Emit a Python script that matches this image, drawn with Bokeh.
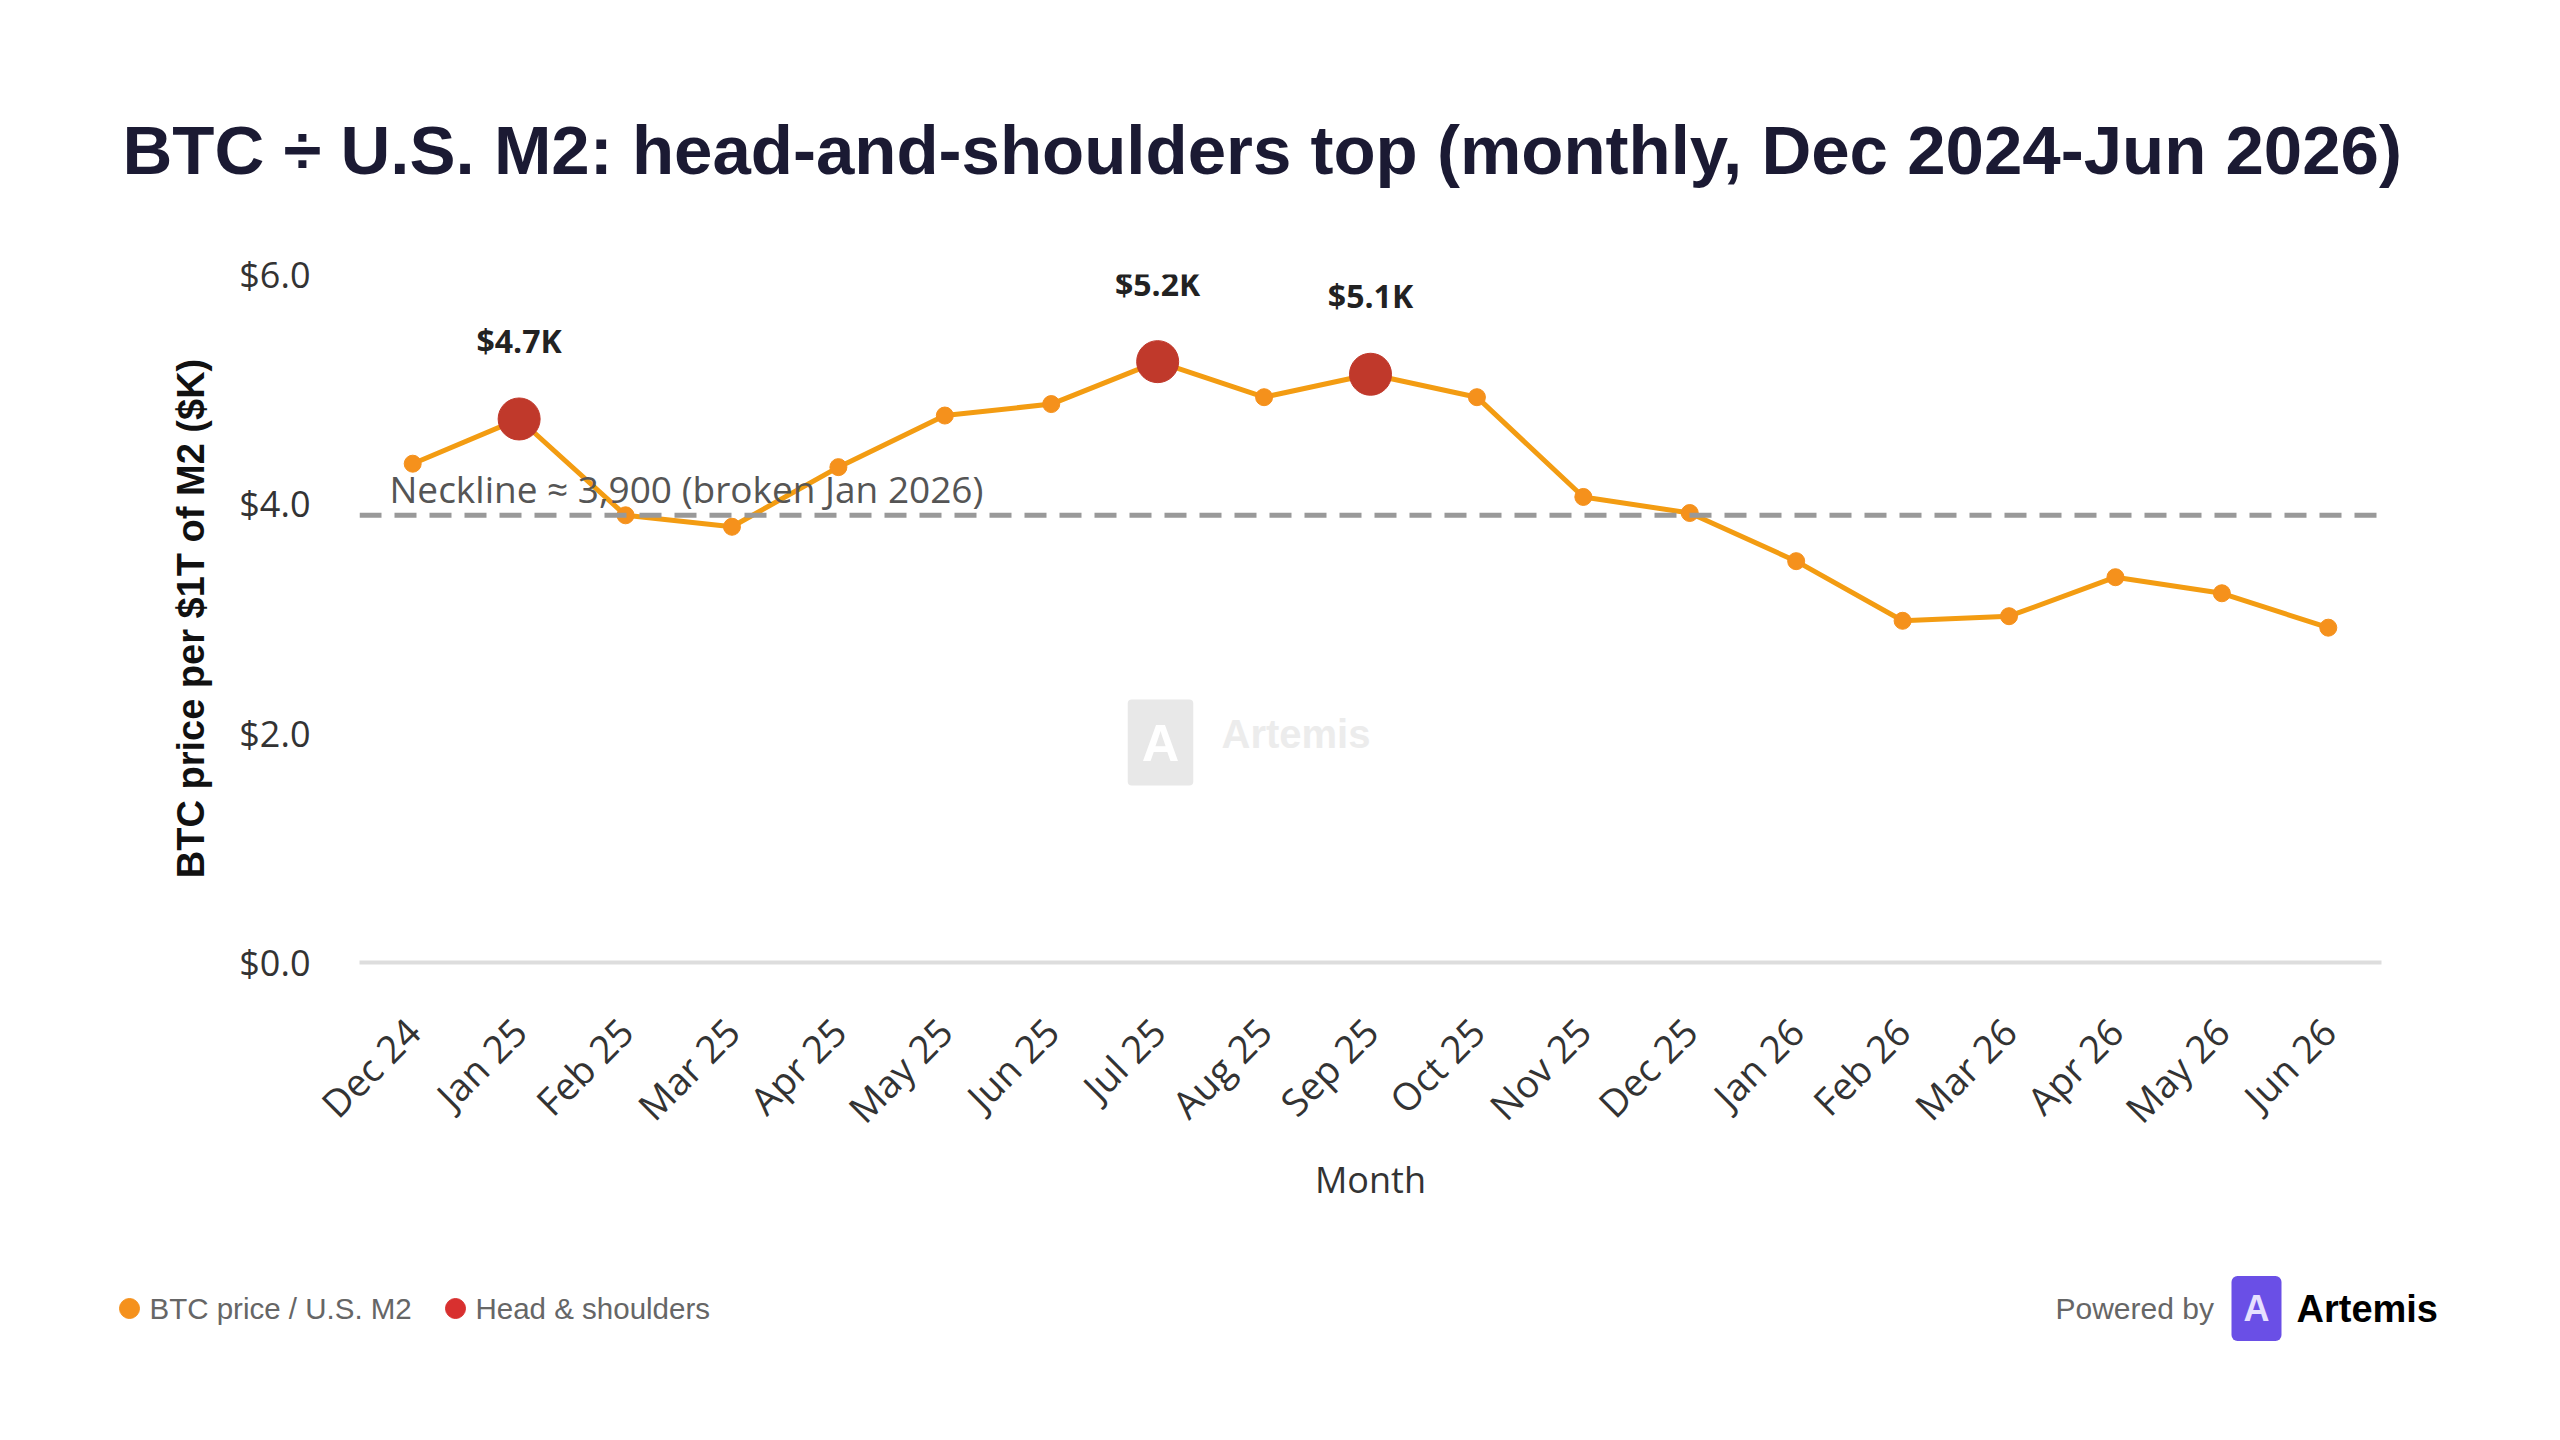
from math import pi

from bokeh.plotting import figure
from bokeh.layouts import column
from bokeh.core.properties import value
from bokeh.models import (ColumnDataSource, FactorRange, Range1d, Span, Label, LabelSet,
                          FixedTicker, PrintfTickFormatter)
from bokeh.embed import file_html
from bokeh.resources import INLINE

# monthly BTC price per $1T of US M2, in $K
months = ["Dec 24", "Jan 25", "Feb 25", "Mar 25", "Apr 25", "May 25", "Jun 25", "Jul 25",
          "Aug 25", "Sep 25", "Oct 25", "Nov 25", "Dec 25", "Jan 26", "Feb 26", "Mar 26",
          "Apr 26", "May 26", "Jun 26"]
ratio = [4.35, 4.74, 3.90, 3.80, 4.32, 4.77, 4.87, 5.24, 4.93, 5.13, 4.93, 4.06, 3.92,
         3.50, 2.98, 3.02, 3.36, 3.22, 2.92]

# left shoulder, head, right shoulder
peak_months = ["Jan 25", "Jul 25", "Sep 25"]
peak_labels = ["$4.7K", "$5.2K", "$5.1K"]
neckline = 3.9
y_ticks = [0, 2, 4, 6]

legend_labels = ["BTC price / U.S. M2", "Head & shoulders"]

ORANGE = "#f39c12"
DOT = "#f5911c"
RED = "#c0392b"
W = 2544

src = ColumnDataSource(data=dict(month=months, ratio=ratio))
peaks = ColumnDataSource(data=dict(
    month=peak_months,
    value=[ratio[months.index(m)] for m in peak_months],
    label=peak_labels,
))


def blank(height, top):
    # plain strip without axes; its data units are page pixels, y growing down
    f = figure(width=W, height=height, x_range=Range1d(0, W),
               y_range=Range1d(top + height, top), x_axis_type=None, y_axis_type=None,
               min_border=0, outline_line_color=None, toolbar_location=None,
               output_backend="svg", frame_align=False)
    f.xgrid.visible = False
    f.ygrid.visible = False
    return f


# ---- title strip
head = blank(220, 0)
head.add_layout(Label(x=122, y=150, text_baseline="alphabetic",
                      text="BTC \u00f7 U.S. M2: head-and-shoulders top (monthly, Dec 2024-Jun 2026)",
                      text_font="Liberation Sans", text_font_style="bold",
                      text_font_size="69px", text_color="#1b1a33"))

# ---- main chart
p = figure(
    width=W,
    height=1020,
    x_range=FactorRange(factors=months),
    y_range=Range1d(0, 6),
    output_backend="svg",
    toolbar_location=None,
    min_border_left=359,
    min_border_right=163,
    min_border_top=54,
    min_border_bottom=278,
    outline_line_color=None,
    frame_align=False,
)
p.xgrid.visible = False
p.ygrid.visible = False

p.yaxis.ticker = FixedTicker(ticks=y_ticks)
p.yaxis.formatter = PrintfTickFormatter(format="$%.1f")
p.yaxis.axis_line_color = None
p.yaxis.major_tick_line_color = None
p.yaxis.minor_tick_line_color = None
p.yaxis.major_label_text_font = "Open Sans"
p.yaxis.major_label_text_font_size = "36px"
p.yaxis.major_label_text_color = "#333333"
p.yaxis.major_label_standoff = 43
p.yaxis.axis_label = "BTC price per $1T of M2 ($K)"
p.yaxis.axis_label_text_font = "Liberation Sans"
p.yaxis.axis_label_text_font_style = "bold"
p.yaxis.axis_label_text_font_size = "38px"
p.yaxis.axis_label_text_color = "#111111"
p.yaxis.axis_label_standoff = 24

p.xaxis.major_label_orientation = pi / 4
p.xaxis.major_tick_line_color = None
p.xaxis.minor_tick_line_color = None
p.xaxis.axis_line_color = "#dddddd"
p.xaxis.axis_line_width = 4
p.xaxis.major_label_text_font = "Open Sans"
p.xaxis.major_label_text_font_size = "38px"
p.xaxis.major_label_text_color = "#333333"
p.xaxis.major_label_standoff = 56
p.xaxis.axis_label = "Month"
p.xaxis.axis_label_text_font = "Open Sans"
p.xaxis.axis_label_text_font_style = "normal"
p.xaxis.axis_label_text_font_size = "36px"
p.xaxis.axis_label_text_color = "#333333"
p.xaxis.axis_label_standoff = 0

# neckline
p.add_layout(Span(location=neckline, dimension="width", line_color="#999999",
                  line_width=5, line_dash="22 13"))
p.add_layout(Label(x=30, y=neckline, x_units="screen", y_offset=1,
                   text="Neckline \u2248 3,900 (broken Jan 2026)",
                   text_font="Open Sans", text_font_size="37px", text_color="#555555"))

# faint watermark
p.add_layout(Label(x=801, y=220, x_units="screen", y_units="screen", text="A",
                   text_align="center", text_baseline="middle", text_font="Liberation Sans",
                   text_font_style="bold", text_font_size="52px", text_color="white",
                   background_fill_color="#e8e8e8", padding=14, border_radius=4))
p.add_layout(Label(x=862, y=207, x_units="screen", y_units="screen", text="Artemis",
                   text_font="Liberation Sans", text_font_style="bold",
                   text_font_size="40px", text_color="#ececec"))

p.line(x="month", y="ratio", source=src, line_color=ORANGE, line_width=5)
p.scatter(x="month", y="ratio", source=src, size=17, color=DOT)
p.scatter(x="month", y="value", source=peaks, size=42, color=RED)

p.add_layout(LabelSet(x="month", y="value", text="label", source=peaks, y_offset=57,
                      text_align="center", text_font=value("Open Sans"),
                      text_font_style="bold", text_font_size="32px",
                      text_color="#222222"))

# ---- footer strip: legend + branding
foot = blank(160, 1240)
key_x = [129, 455]
key_y = [1308, 1308]
foot.scatter(x=key_x, y=key_y, size=20, color=[DOT, "#d8302f"])
for lbl, kx in zip(legend_labels, key_x):
    foot.add_layout(Label(x=kx + 20, y=1308, text=lbl, text_baseline="middle",
                          text_font="Liberation Sans", text_font_size="29.5px",
                          text_color="#666666"))

foot.add_layout(Label(x=2055, y=1308, text_baseline="middle", text="Powered by",
                      text_font="Liberation Sans", text_font_size="30px",
                      text_color="#666666"))
foot.add_layout(Label(x=2256, y=1308, text="A", text_align="center", text_baseline="middle",
                      text_font="Liberation Sans", text_font_style="bold",
                      text_font_size="36px", text_color="#e6e0ff",
                      background_fill_color="#6a4fe6", padding=12, border_radius=6))
foot.add_layout(Label(x=2296, y=1308, text_baseline="middle", text="Artemis",
                      text_font="Liberation Sans", text_font_style="bold",
                      text_font_size="38px", text_color="#000000"))

page = column(head, p, foot, spacing=0)
open("out.html", "w").write(file_html(page, INLINE))
